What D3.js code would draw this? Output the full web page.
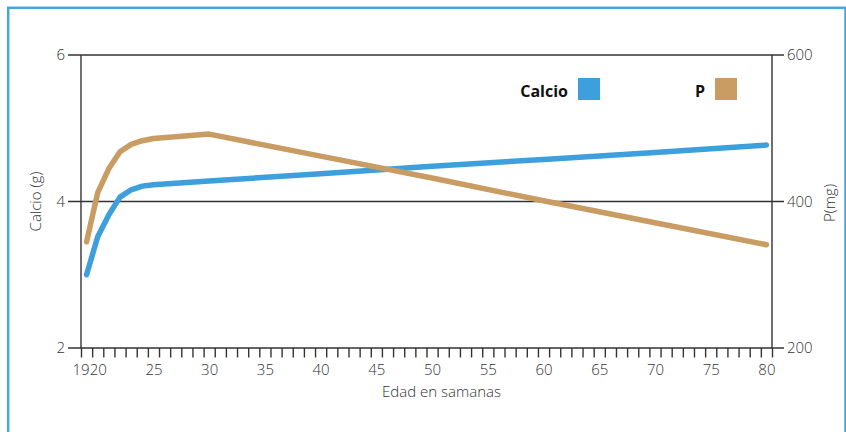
<!DOCTYPE html>
<html>
<head>
<meta charset="utf-8">
<script src="https://cdn.jsdelivr.net/npm/d3@7"></script>
<style>
  html, body { margin: 0; padding: 0; background: #fff; }
  svg { display: block; }
  text { font-family: "Open Sans", sans-serif; }
</style>
</head>
<body>
<svg id="chart" width="846" height="432"></svg>
<script>
// ---- data ----
const weeks   = [19, 20, 21, 22, 23, 24, 25, 30, 40, 50, 60, 70, 80];
const calcio  = [3.0, 3.52, 3.82, 4.06, 4.16, 4.21, 4.23, 4.28, 4.38, 4.48, 4.575, 4.67, 4.77];
const fosforo = [345, 412, 445, 468, 478, 483, 486, 492, 462, 432, 401, 371, 341];
const xLabelValues = [19, 20, 25, 30, 35, 40, 45, 50, 55, 60, 65, 70, 75, 80];
const yLeftTicks  = [2, 4, 6];
const yRightTicks = [200, 400, 600];
const seriesNames = ["Calcio", "P"];
const xTitle = "Edad en samanas";
const yLeftTitle = "Calcio (g)";
const yRightTitle = "P(mg)";

// ---- layout ----
const svg = d3.select("#chart");
const L = 81, R = 772, T = 55, B = 348;
const blue = "#3d9fdc", tan = "#c99c64", axisCol = "#333", textCol = "#333";

const x  = d3.scaleLinear().domain([18.5, 80.5]).range([L, R]);
const yL = d3.scaleLinear().domain([2, 6]).range([B, T]);
const yR = d3.scaleLinear().domain([200, 600]).range([B, T]);

// frame
svg.append("rect").attr("x", 8.2).attr("y", 7.8).attr("width", 837.3).attr("height", 460)
  .attr("fill", "none").attr("stroke", "#45a6e0").attr("stroke-width", 2.5);

// horizontal grid lines (with outer ticks)
svg.append("g").selectAll("line").data(yLeftTicks).join("line")
  .attr("x1", 68).attr("x2", 784)
  .attr("y1", d => yL(d)).attr("y2", d => yL(d))
  .attr("stroke", axisCol).attr("stroke-width", 1.4);

// vertical axis lines
svg.append("line").attr("x1", L).attr("x2", L).attr("y1", T).attr("y2", B).attr("stroke", axisCol).attr("stroke-width", 1.4);
svg.append("line").attr("x1", R).attr("x2", R).attr("y1", T).attr("y2", B).attr("stroke", axisCol).attr("stroke-width", 1.4);

// minor ticks on x axis (category boundaries)
const tickVals = d3.range(18.5, 81, 1);
const gTicks = svg.append("g").attr("transform", `translate(0,${B})`)
  .call(d3.axisBottom(x).tickValues(tickVals).tickSize(9.5).tickFormat(""));
gTicks.select(".domain").remove();
gTicks.selectAll(".tick line").attr("stroke", axisCol).attr("stroke-width", 1.4);

const lightText = sel => sel.attr("font-size", 15).attr("fill", textCol)
  .attr("font-family", "Open Sans").attr("font-weight", 300);

// x labels
const gXL = svg.append("g").attr("transform", `translate(0,${B})`)
  .call(d3.axisBottom(x).tickValues(xLabelValues).tickSize(0).tickPadding(16).tickFormat(d3.format("d")));
gXL.select(".domain").remove();
gXL.selectAll("text").call(lightText);
gXL.selectAll(".tick").filter(d => d === 19).select("text").attr("dx", "-0.4em");

// left y labels
const gYL = svg.append("g").attr("transform", `translate(${L},0)`)
  .call(d3.axisLeft(yL).tickValues(yLeftTicks).tickSize(0).tickPadding(16).tickFormat(d3.format("d")));
gYL.select(".domain").remove();
gYL.selectAll("text").call(lightText);

// right y labels
const gYR = svg.append("g").attr("transform", `translate(${R},0)`)
  .call(d3.axisRight(yR).tickValues(yRightTicks).tickSize(0).tickPadding(15).tickFormat(d3.format("d")));
gYR.select(".domain").remove();
gYR.selectAll("text").call(lightText);

// titles
svg.append("text").attr("x", 441.5).attr("y", 397).attr("text-anchor", "middle")
  .attr("font-size", 15).attr("font-weight", 300).attr("fill", textCol).text(xTitle);
svg.append("text").attr("transform", "translate(34.5,201.5) rotate(-90)")
  .attr("text-anchor", "middle").attr("dominant-baseline", "central")
  .attr("font-size", 15).attr("font-weight", 300).attr("fill", textCol).text(yLeftTitle);
svg.append("text").attr("transform", "translate(828.5,203) rotate(-90)")
  .attr("text-anchor", "middle").attr("dominant-baseline", "central")
  .attr("font-size", 15).attr("font-weight", 300).attr("fill", textCol).text(yRightTitle);

// lines
const lineC = d3.line().x((d, i) => x(weeks[i])).y(d => yL(d));
const lineP = d3.line().x((d, i) => x(weeks[i])).y(d => yR(d));
svg.append("path").datum(calcio).attr("d", lineC).attr("fill", "none")
  .attr("stroke", blue).attr("stroke-width", 5.5).attr("stroke-linecap", "round").attr("stroke-linejoin", "round");
svg.append("path").datum(fosforo).attr("d", lineP).attr("fill", "none")
  .attr("stroke", tan).attr("stroke-width", 5.5).attr("stroke-linecap", "round").attr("stroke-linejoin", "round");

// legend
const legend = [
  { name: seriesNames[0], color: blue, tx: 568, rx: 578 },
  { name: seriesNames[1], color: tan,  tx: 705, rx: 715 }
];
const lg = svg.append("g").selectAll("g").data(legend).join("g");
lg.append("text").attr("x", d => d.tx).attr("y", 96.5).attr("text-anchor", "end")
  .attr("font-size", 16).attr("font-weight", "bold").attr("fill", "#111").text(d => d.name);
lg.append("rect").attr("x", d => d.rx).attr("y", 78).attr("width", 22).attr("height", 22)
  .attr("fill", d => d.color);
</script>
</body>
</html>
